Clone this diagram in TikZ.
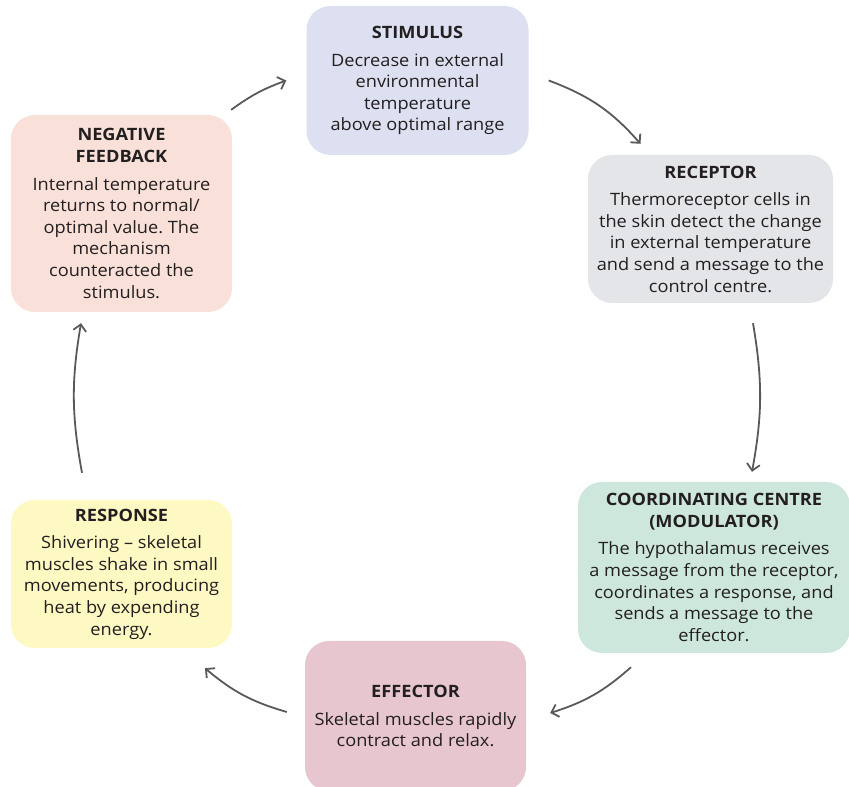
\documentclass[tikz,border=0pt]{standalone}
\usepackage{fontspec}
\setmainfont[FakeStretch=1.07]{Open Sans}
\usetikzlibrary{arrows.meta}
\definecolor{txt}{HTML}{231F20}
\definecolor{arrowc}{HTML}{58595B}
\definecolor{cstim}{HTML}{DCE0F1}
\definecolor{crec}{HTML}{E4E5E9}
\definecolor{ccoord}{HTML}{CDE7DC}
\definecolor{ceff}{HTML}{E8C6D0}
\definecolor{cresp}{HTML}{FEF8C2}
\definecolor{cneg}{HTML}{F9E1DA}
\tikzset{
  box/.style={rounded corners=24pt, draw=none, align=center, text=txt,
    inner sep=0pt, font=\fontsize{17}{21.6}\selectfont},
  arr/.style={draw=arrowc, line width=1.8pt,
    -{Straight Barb[length=6.5pt,width=13pt,line width=1.8pt]}},
}
\newcommand{\ttl}[1]{\textbf{#1}}
\frenchspacing
\begin{document}
\begin{tikzpicture}[x=1pt,y=1pt]
\useasboundingbox (0,0) rectangle (849,787);
\begin{scope}
\clip (0,0) rectangle (849,787);
\node[box, fill=cstim, minimum width=222pt, minimum height=149pt] (stim) at (417.5,706.5)
  {\ttl{STIMULUS}\\[6pt]Decrease in external\\environmental\\temperature\\above optimal range};
\node[box, fill=crec, minimum width=245pt, minimum height=148pt] (rec) at (710.5,558)
  {\ttl{RECEPTOR}\\[6pt]Thermoreceptor cells in\\the skin detect the change\\in external temperature\\and send a message to the\\control centre.};
\node[box, fill=ccoord, minimum width=272pt, minimum height=171pt] (coord) at (714,219.5)
  {\ttl{COORDINATING CENTRE}\\\ttl{(MODULATOR)}\\[6pt]The hypothalamus receives\\a message from the receptor,\\coordinates a response, and\\sends a message to the\\effector.};
\node[box, fill=ceff, minimum width=221pt, minimum height=150pt] (eff) at (415.5,71)
  {\ttl{EFFECTOR}\\[6pt]Skeletal muscles rapidly\\contract and relax.};
\node[box, fill=cresp, minimum width=221pt, minimum height=148pt] (resp) at (121.5,213)
  {\ttl{RESPONSE}\\[6pt]Shivering -- skeletal\\muscles shake in small\\movements, producing\\heat by expending\\energy.};
\node[box, fill=cneg, minimum width=221pt, minimum height=197pt] (neg) at (121.5,573.5)
  {\ttl{NEGATIVE}\\\ttl{FEEDBACK}\\[6pt]Internal temperature\\returns to normal/\\optimal value. The\\mechanism\\counteracted the\\stimulus.};
\end{scope}
\draw[arr] ([shift={(-1,5)}]neg.north east) to[bend left=8] ([shift={(-20,0)}]stim.west);
\draw[arr] ([shift={(20,0)}]stim.east) to[bend left=14] ([shift={(-70,11)}]rec.north);
\draw[arr] ([shift={(42.5,-20)}]rec.south) to[bend left=10] ([shift={(38,10)}]coord.north);
\draw[arr] ([shift={(-83,-14)}]coord.south) to[bend left=12] ([shift={(24,3)}]eff.east);
\draw[arr] ([shift={(-18,4)}]eff.west) to[bend left=12] ([shift={(83.5,-20)}]resp.south);
\draw[arr] ([shift={(-39.5,27)}]resp.north) to[bend left=10] ([shift={(-40.5,-11)}]neg.south);
\end{tikzpicture}
\end{document}
